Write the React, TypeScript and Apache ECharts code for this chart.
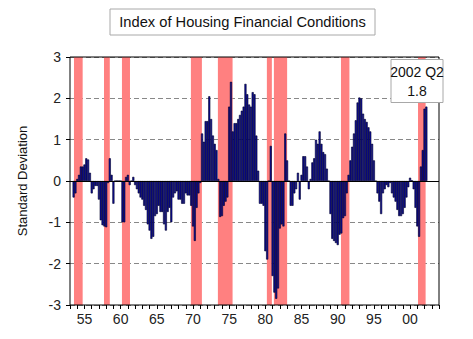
import React, { useEffect, useRef } from "react";
import * as echarts from "echarts";

// Quarterly index values (standard deviations), starting 1953 Q3
const v1950s = [
  -0.4, -0.3,
  0.05, 0.15, 0.35, 0.35,
  0.4, 0.55, 0.52, 0.2,
  -0.3, -0.2, -0.12, -0.12,
  -0.45, -0.95, -1.07, -1.1,
  -1.12, -0.05, 0.55, 0.15,
  -0.55, 0, 0, 0,
];
const v1960s = [
  0.0, -1.0, -1.0, 0.1,
  0.15, -0.1, 0.0, 0.1,
  -0.1, -0.2, -0.3, -0.4,
  -0.45, -0.6, -0.7, -1.05,
  -1.2, -1.4, -1.35, -0.85,
  -0.8, -0.6, -0.75, -0.75,
  -1.05, -1.2, -0.75, -0.65,
  -1.0, -0.4, -0.3, -0.25,
  -0.45, -0.45, -0.55, -0.55,
  -0.3, -0.35, -0.35, -0.6,
];
const v1970s = [
  -1.1, -1.45, -0.65, -0.3,
  -0.05, 1.15, 0.95, 1.45,
  1.45, 2.05, 1.5, 1.1,
  0.9, 0.75, 0.05, -0.87,
  -0.85, -0.6, -0.5, -0.4,
  1.8, 2.4, 1.2, 1.4,
  1.4, 1.5, 1.6, 1.7,
  1.8, 2.35, 2.1, 1.85,
  1.8, 2.15, 2.1, 1.1,
  0.25, -0.55, -0.55, -0.6,
];
const v1980s = [
  -1.7, -1.9, 0.0, 0.85,
  -2.3, -2.7, -2.85, -2.6,
  -1.15, -1.05, -1.1, 1.15,
  0.5, 0.0, -0.6, -0.6,
  -0.3, -0.2, 0.2, -0.45,
  0.15, 0.6, 0.6, 0.35,
  -0.2, 0.05, 0.45, 0.55,
  1.0, 0.9, 1.2, 0.9,
  0.7, 0.65, 0.3, 0.0,
  -0.8, -1.4, -1.45, -1.5,
];
const v1990s = [
  -1.55, -1.3, -1.27, -0.9,
  -0.85, -0.3, 0.15, 0.5,
  0.83, 1.15, 1.47, 1.9,
  2.02, 2.0, 1.63, 1.5,
  1.43, 1.3, 1.2, 0.9,
  0.5, 0.0, -0.3, -0.5,
  -0.8, -0.3, -0.2, -0.1,
  -0.15, -0.05, -0.3, -0.4,
  -0.5, -0.7, -0.85, -0.85,
  -0.8, -0.65, -0.4, -0.15,
];
const v2000s = [
  0.08, 0.02, -0.2, -0.65,
  -1.1, -1.35, 0.35, 0.75,
  1.75, 1.8,
];

const startYear = 1953;
const startQuarter = 3;

// Recession shading (fractional years)
const recessions: [number, number][] = [
  [1953.55, 1954.75],
  [1957.7, 1958.5],
  [1960.18, 1961.29],
  [1969.71, 1971.23],
  [1973.44, 1975.47],
  [1980.21, 1980.9],
  [1981.18, 1983.01],
  [1990.45, 1991.62],
  [2001.1, 2002.15],
];

const yTicks = [-3, -2, -1, 0, 1, 2, 3];
const titleText = "Index of Housing Financial Conditions";
const noteLines = ["2002 Q2", "1.8"];

const FONT = "'Liberation Sans', Arial, sans-serif";

export default function App() {
  const ref = useRef<HTMLDivElement>(null);
  useEffect(() => {
    if (!ref.current) return;
    const chart = echarts.init(ref.current, undefined, { renderer: "svg" });
    const values = [...v1950s, ...v1960s, ...v1970s, ...v1980s, ...v1990s, ...v2000s];
    const data = values.map((v, i) => {
      const qIndex = startQuarter - 1 + i;
      const t = startYear + qIndex / 4;
      return [t, v];
    });
    const L = 70, T = 57, W = 369, H = 248;
    chart.setOption({
      animation: false,
      backgroundColor: "#ffffff",
      grid: { left: L, top: T, width: W, height: H, show: false },
      xAxis: {
        type: "value",
        min: 1953,
        max: 2004,
        interval: 1,
        axisLine: { show: false, onZero: false },
        axisTick: { show: true, length: 4, lineStyle: { color: "#000" } },
        axisLabel: {
          fontFamily: FONT,
          fontSize: 14,
          color: "#222",
          margin: 7,
          showMinLabel: true,
          showMaxLabel: true,
          formatter: (v: number) =>
            Math.round(v) % 5 === 0 ? String(Math.round(v) % 100).padStart(2, "0") : "",
        },
        splitLine: { show: false },
      },
      yAxis: {
        type: "value",
        min: yTicks[0],
        max: yTicks[yTicks.length - 1],
        interval: 1,
        axisLine: { show: false },
        axisTick: { show: true, length: 4, lineStyle: { color: "#000" } },
        axisLabel: { fontFamily: FONT, fontSize: 14, color: "#222", margin: 9 },
        splitLine: { show: true, lineStyle: { color: "#888", type: [5, 3], width: 1 } },
      },
      series: [
        {
          type: "bar",
          data,
          barWidth: 2.1,
          barGap: "0%",
          itemStyle: { color: "#0c0c9c", borderColor: "#000028", borderWidth: 0.6 },
          markArea: {
            silent: true,
            z: 1,
            itemStyle: { color: "#ff8080", opacity: 1 },
            data: recessions.map(([a, b]) => [{ xAxis: a }, { xAxis: b }]),
          },
          markLine: {
            silent: true,
            symbol: "none",
            label: { show: false },
            lineStyle: { color: "#000", type: "solid", width: 1 },
            data: [{ yAxis: 0 }],
          },
        },
      ],
      graphic: [
        {
          type: "rect",
          z: 100,
          shape: { x: L, y: T, width: W, height: H },
          style: { fill: "none", stroke: "#000", lineWidth: 1 },
        },
        {
          type: "rect",
          z: 100,
          shape: { x: 110, y: 9, width: 265, height: 26 },
          style: { fill: "#fff", stroke: "#a8a8a8", lineWidth: 1 },
        },
        {
          type: "text",
          z: 101,
          x: 242.5,
          y: 22,
          style: {
            text: titleText,
            fontFamily: FONT,
            fontSize: 14.7,
            fill: "#111",
            textAlign: "center",
            textVerticalAlign: "middle",
          },
        },
        {
          type: "text",
          z: 101,
          x: 22,
          y: 181,
          rotation: Math.PI / 2,
          style: {
            text: "Standard Deviation",
            fontFamily: FONT,
            fontSize: 13,
            fill: "#111",
            textAlign: "center",
            textVerticalAlign: "middle",
          },
        },
        {
          type: "rect",
          z: 100,
          shape: { x: 391, y: 59.5, width: 52, height: 43 },
          style: { fill: "#fff", stroke: "#a8a8a8", lineWidth: 1 },
        },
        {
          type: "text",
          z: 101,
          x: 417,
          y: 72,
          style: {
            text: noteLines[0],
            fontFamily: FONT,
            fontSize: 14,
            fill: "#111",
            textAlign: "center",
            textVerticalAlign: "middle",
          },
        },
        {
          type: "text",
          z: 101,
          x: 417,
          y: 91,
          style: {
            text: noteLines[1],
            fontFamily: FONT,
            fontSize: 14,
            fill: "#111",
            textAlign: "center",
            textVerticalAlign: "middle",
          },
        },
      ],
    });
    return () => chart.dispose();
  }, []);
  return (
    <div
      ref={ref}
      style={{ position: "absolute", left: 0, top: 0, width: 473, height: 339 }}
    />
  );
}
